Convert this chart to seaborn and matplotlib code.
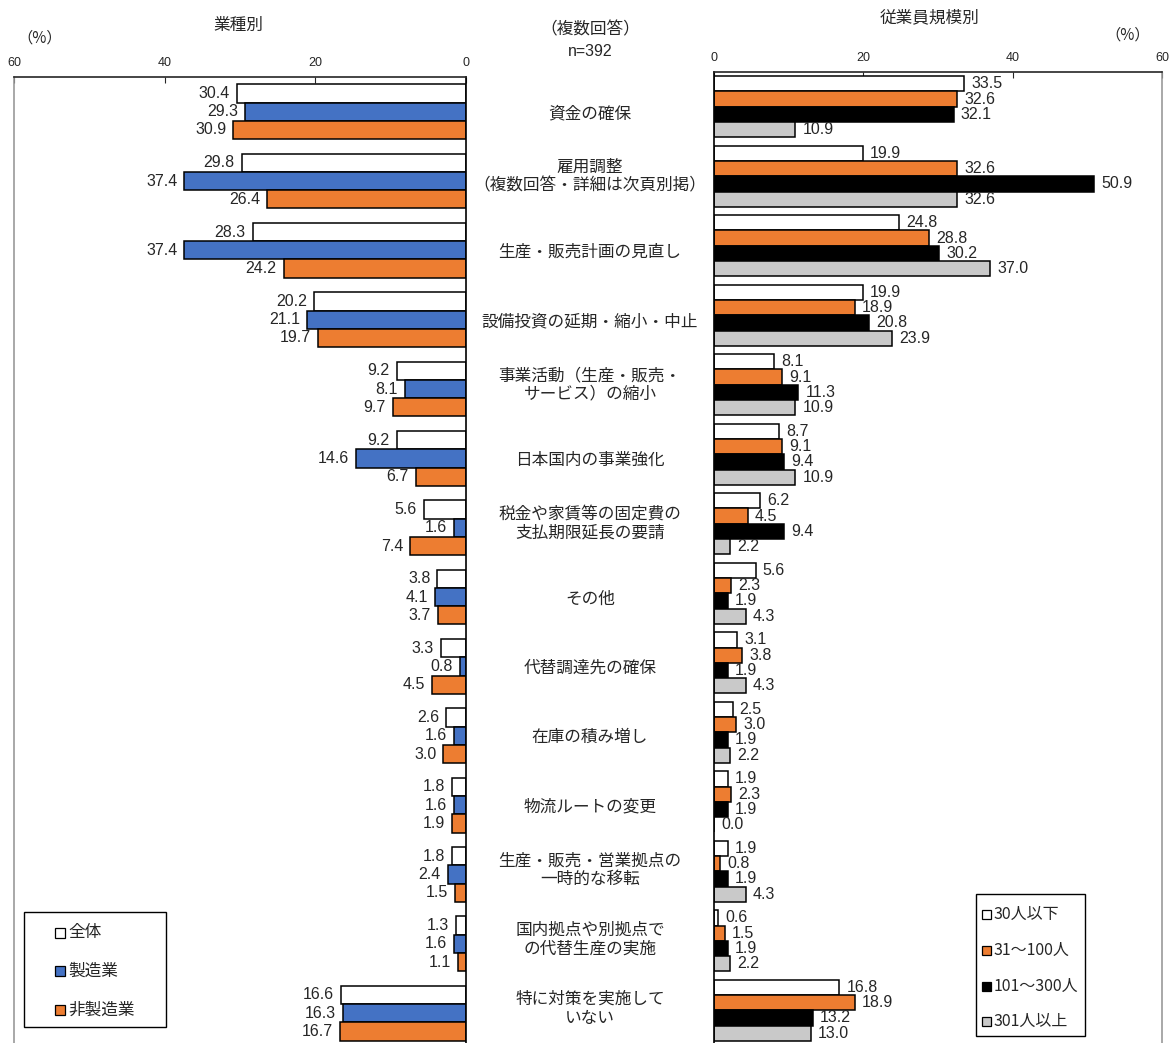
import pandas as pd
import numpy as np
import matplotlib
matplotlib.use("Agg")
import matplotlib.pyplot as plt
import matplotlib.transforms as mtransforms
from matplotlib.patches import Rectangle
import seaborn as sns

sns.set_style("white")
plt.rcParams['font.family'] = ['Noto Sans CJK JP', 'DejaVu Sans']
NUM_FONT = ['Liberation Sans', 'DejaVu Sans']

# --- data ---
categories = [
    "資金の確保",
    "雇用調整\n（複数回答・詳細は次頁別掲）",
    "生産・販売計画の見直し",
    "設備投資の延期・縮小・中止",
    "事業活動（生産・販売・\nサービス）の縮小",
    "日本国内の事業強化",
    "税金や家賃等の固定費の\n支払期限延長の要請",
    "その他",
    "代替調達先の確保",
    "在庫の積み増し",
    "物流ルートの変更",
    "生産・販売・営業拠点の\n一時的な移転",
    "国内拠点や別拠点で\nの代替生産の実施",
    "特に対策を実施して\nいない",
]

industry_groups = ["全体", "製造業", "非製造業"]
zentai = [30.4, 29.8, 28.3, 20.2, 9.2, 9.2, 5.6, 3.8, 3.3, 2.6, 1.8, 1.8, 1.3, 16.6]
seizo = [29.3, 37.4, 37.4, 21.1, 8.1, 14.6, 1.6, 4.1, 0.8, 1.6, 1.6, 2.4, 1.6, 16.3]
hiseizo = [30.9, 26.4, 24.2, 19.7, 9.7, 6.7, 7.4, 3.7, 4.5, 3.0, 1.9, 1.5, 1.1, 16.7]

size_groups = ["30人以下", "31～100人", "101～300人", "301人以上"]
s30 = [33.5, 19.9, 24.8, 19.9, 8.1, 8.7, 6.2, 5.6, 3.1, 2.5, 1.9, 1.9, 0.6, 16.8]
s100 = [32.6, 32.6, 28.8, 18.9, 9.1, 9.1, 4.5, 2.3, 3.8, 3.0, 2.3, 0.8, 1.5, 18.9]
s300 = [32.1, 50.9, 30.2, 20.8, 11.3, 9.4, 9.4, 1.9, 1.9, 1.9, 1.9, 1.9, 1.9, 13.2]
s301 = [10.9, 32.6, 37.0, 23.9, 10.9, 10.9, 2.2, 4.3, 4.3, 2.2, 0.0, 4.3, 2.2, 13.0]

ind_colors = ["#FFFFFF", "#4472C4", "#ED7D31"]
size_colors = ["#FFFFFF", "#ED7D31", "#000000", "#C9C9C9"]

# long-form tables for seaborn
left_df = pd.DataFrame({
    "cat": categories * 3,
    "grp": np.repeat(industry_groups, len(categories)),
    "val": zentai + seizo + hiseizo,
})
right_df = pd.DataFrame({
    "cat": categories * 4,
    "grp": np.repeat(size_groups, len(categories)),
    "val": s30 + s100 + s300 + s301,
})

W, H = 1170, 1043
fig = plt.figure(figsize=(W / 100, H / 100), dpi=100)


def fx(px):
    return px / W


def fy(py):
    return 1 - py / H


# axes placed in pixel terms
axL = fig.add_axes([fx(14), 0, (466 - 14) / W, fy(77)])
axR = fig.add_axes([fx(714), 0, (1162 - 714) / W, fy(72)])

sns.barplot(data=left_df, y="cat", x="val", hue="grp", order=categories,
            hue_order=industry_groups, palette=ind_colors, orient="h",
            width=0.79, edgecolor="black", linewidth=1.1, saturation=1,
            legend=False, ax=axL)
sns.barplot(data=right_df, y="cat", x="val", hue="grp", order=categories,
            hue_order=size_groups, palette=size_colors, orient="h",
            width=0.88, edgecolor="black", linewidth=1.1, saturation=1,
            legend=False, ax=axR)

axL.set_xlim(60, 0)
axL.set_ylim(13.43, -0.5)
axR.set_xlim(0, 60)
axR.set_ylim(13.47, -0.5)

for ax in (axL, axR):
    ax.set_xticks([0, 20, 40, 60])
    ax.xaxis.tick_top()
    ax.tick_params(axis="x", direction="in", length=4, labelsize=9, pad=6,
                   top=True, bottom=False)
    for t in ax.get_xticklabels():
        t.set_family(NUM_FONT)
    ax.set_yticks([])
    ax.set_xlabel("")
    ax.set_ylabel("")
    ax.spines["bottom"].set_visible(False)
    for s in ax.spines.values():
        s.set_linewidth(1.2)

axL.spines["left"].set_color("#999999")
axL.spines["right"].set_color("black")
axR.spines["right"].set_color("#999999")
axR.spines["left"].set_color("black")

# value labels
for cont in axL.containers:
    axL.bar_label(cont, fmt="{:.1f}", padding=5, fontsize=11.5, family=NUM_FONT)
for cont in axR.containers:
    axR.bar_label(cont, fmt="{:.1f}", padding=5, fontsize=11.5, family=NUM_FONT)

# category labels in the middle column
trans = mtransforms.blended_transform_factory(fig.transFigure, axL.transData)
for i, c in enumerate(categories):
    dy = -0.06 if "\n" in c else 0.03
    axL.text(fx(590), i + dy, c, transform=trans, ha="center", va="center",
             fontsize=12, linespacing=1.15, clip_on=False)

# headers
fig.text(fx(238), fy(25), "業種別", ha="center", va="center", fontsize=12)
fig.text(fx(930), fy(18), "従業員規模別", ha="center", va="center", fontsize=12)
fig.text(fx(590), fy(30), "（複数回答）", ha="center", va="center", fontsize=12)
fig.text(fx(590), fy(52), "n=392", ha="center", va="center", fontsize=11.5,
         family=NUM_FONT)
fig.text(fx(40), fy(38), "（%）", ha="center", va="center", fontsize=11)
fig.text(fx(1128), fy(35), "（%）", ha="center", va="center", fontsize=11)


# legends drawn as boxed key lists
def draw_key(box, items, colors, ys, mark_x, size=10, fs=12):
    x0, y0, x1, y1 = box
    fig.add_artist(Rectangle((fx(x0), fy(y1)), (x1 - x0) / W, (y1 - y0) / H,
                             transform=fig.transFigure, facecolor="white",
                             edgecolor="black", linewidth=1.0))
    for lab, col, yy in zip(items, colors, ys):
        fig.add_artist(Rectangle((fx(mark_x), fy(yy + size / 2)), size / W, size / H,
                                 transform=fig.transFigure, facecolor=col,
                                 edgecolor="black", linewidth=0.9))
        fig.text(fx(mark_x + size + 3), fy(yy), lab, ha="left", va="center",
                 fontsize=fs)


draw_key((24, 912, 166, 1027), industry_groups, ind_colors,
         [933, 971, 1010], 55)
draw_key((976, 894, 1085, 1036), size_groups, size_colors,
         [914, 950, 986, 1021], 982, size=9, fs=11.5)

fig.savefig("out.png", dpi=100)
